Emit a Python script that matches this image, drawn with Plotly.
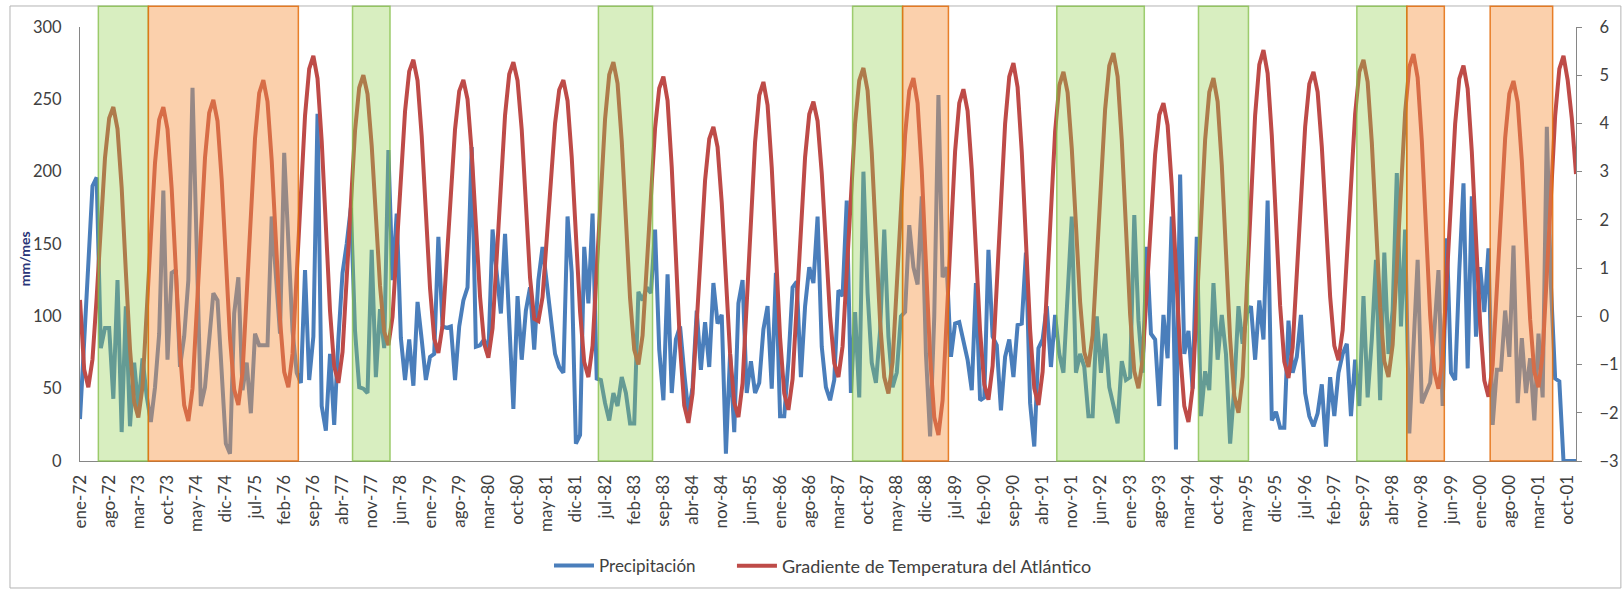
import plotly.graph_objects as go

months = ["ene", "feb", "mar", "abr", "may", "jun", "jul", "ago", "sep", "oct", "nov", "dic"]
years = list(range(1972, 2002))
categories = [f"{m}-{str(y)[2:]}" for y in years for m in months]

precipitacion = [
    29, 80, 140, 190, 196, 78, 92, 92, 43, 125, 20, 107,      # 1972
    24, 68, 36, 71, 45, 27, 51, 88, 187, 70, 130, 132,        # 1973
    65, 86, 125, 258, 148, 38, 51, 84, 116, 111, 63, 12,      # 1974
    5, 102, 127, 49, 68, 33, 88, 80, 80, 80, 169, 125,        # 1975
    88, 213, 150, 90, 61, 54, 132, 56, 86, 240, 38, 21,       # 1976
    74, 25, 84, 130, 150, 175, 90, 51, 50, 47, 146, 58,       # 1977
    105, 78, 215, 125, 171, 85, 56, 84, 52, 110, 84, 56,      # 1978
    72, 74, 155, 93, 92, 93, 56, 93, 111, 120, 217, 79,       # 1979
    80, 84, 74, 160, 130, 102, 157, 102, 36, 114, 70, 104,    # 1980
    120, 77, 125, 148, 125, 102, 74, 65, 61, 169, 130, 12,    # 1981
    18, 148, 109, 171, 57, 56, 40, 28, 47, 38, 58, 47,        # 1982
    26, 26, 117, 111, 120, 116, 160, 77, 42, 129, 47, 84,     # 1983
    93, 61, 33, 51, 104, 63, 96, 65, 123, 95, 101, 5,         # 1984
    74, 20, 109, 125, 47, 69, 47, 54, 91, 107, 50, 130,       # 1985
    31, 31, 69, 120, 124, 58, 107, 134, 123, 169, 79, 51,     # 1986
    42, 56, 118, 114, 180, 47, 103, 44, 200, 116, 68, 54,     # 1987
    90, 160, 86, 51, 61, 100, 103, 163, 134, 122, 183, 74,    # 1988
    17, 100, 253, 127, 134, 72, 95, 96, 84, 70, 49, 123,      # 1989
    42, 44, 146, 86, 80, 35, 72, 84, 58, 94, 95, 144,         # 1990
    40, 10, 78, 84, 107, 65, 101, 74, 61, 120, 169, 61,       # 1991
    74, 65, 31, 31, 100, 61, 88, 51, 38, 26, 69, 56,          # 1992
    58, 170, 97, 61, 148, 88, 84, 38, 101, 71, 169, 8,        # 1993
    198, 74, 90, 50, 155, 31, 62, 49, 123, 70, 101, 74,       # 1994
    12, 51, 107, 81, 102, 107, 70, 111, 84, 180, 28, 34,      # 1995
    23, 23, 97, 61, 72, 101, 47, 31, 24, 33, 53, 10,          # 1996
    58, 31, 61, 74, 81, 31, 70, 38, 114, 44, 84, 139,         # 1997
    42, 144, 74, 104, 199, 93, 160, 19, 79, 139, 40, 47,      # 1998
    54, 90, 132, 38, 154, 61, 56, 132, 192, 64, 183, 86,      # 1999
    134, 103, 147, 25, 63, 63, 104, 72, 149, 40, 85, 47,      # 2000
    71, 28, 88, 44, 231, 120, 57, 55, 0, 0, 0, 0,             # 2001
]

gradiente = [
    0.34, -1.10, -1.47, -0.89, 0.39, 1.90, 3.29, 4.11, 4.34, 3.89, 2.67, 0.93,
    -0.68, -1.78, -2.10, -1.46, -0.04, 1.64, 3.18, 4.08, 4.34, 3.88, 2.65, 0.89,
    -0.74, -1.84, -2.17, -1.50, -0.04, 1.69, 3.29, 4.22, 4.49, 4.05, 2.84, 1.14,
    -0.45, -1.52, -1.84, -1.17, 0.32, 2.07, 3.69, 4.63, 4.90, 4.45, 3.24, 1.52,
    -0.07, -1.15, -1.47, -0.78, 0.73, 2.51, 4.16, 5.13, 5.40, 4.93, 3.64, 1.81,
    0.11, -1.04, -1.38, -0.74, 0.66, 2.32, 3.85, 4.74, 5.00, 4.61, 3.54, 2.03,
    0.63, -0.32, -0.60, -0.01, 1.29, 2.83, 4.25, 5.08, 5.32, 4.89, 3.74, 2.10,
    0.58, -0.46, -0.76, -0.19, 1.05, 2.52, 3.88, 4.67, 4.90, 4.50, 3.40, 1.85,
    0.41, -0.57, -0.86, -0.25, 1.10, 2.70, 4.17, 5.02, 5.27, 4.89, 3.87, 2.42,
    0.80, -0.05, -0.10, 0.40, 1.50, 2.80, 4.00, 4.70, 4.90, 4.47, 3.30, 1.64,
    0.10, -0.95, -1.26, -0.61, 0.83, 2.53, 4.09, 5.01, 5.27, 4.83, 3.64, 1.95,
    0.38, -0.69, -1.00, -0.40, 0.91, 2.46, 3.90, 4.73, 4.97, 4.47, 3.10, 1.16,
    -0.63, -1.85, -2.21, -1.60, -0.25, 1.35, 2.82, 3.68, 3.93, 3.51, 2.36, 0.74,
    -0.77, -1.79, -2.09, -1.39, 0.13, 1.94, 3.61, 4.58, 4.86, 4.38, 3.09, 1.26,
    -0.44, -1.60, -1.94, -1.30, 0.10, 1.77, 3.30, 4.19, 4.45, 4.05, 2.97, 1.42,
    0.00, -0.97, -1.26, -0.62, 0.79, 2.46, 4.00, 4.89, 5.15, 4.68, 3.40, 1.57,
    -0.11, -1.26, -1.60, -0.95, 0.49, 2.19, 3.76, 4.68, 4.94, 4.42, 3.02, 1.02,
    -0.83, -2.09, -2.46, -1.74, -0.17, 1.70, 3.42, 4.42, 4.71, 4.26, 3.04, 1.30,
    -0.31, -1.41, -1.73, -1.03, 0.50, 2.32, 3.99, 4.97, 5.25, 4.75, 3.41, 1.49,
    -0.28, -1.49, -1.84, -1.15, 0.37, 2.17, 3.83, 4.79, 5.07, 4.64, 3.48, 1.83,
    0.30, -0.74, -1.05, -0.40, 1.03, 2.73, 4.29, 5.20, 5.46, 4.97, 3.65, 1.78,
    0.04, -1.14, -1.49, -0.90, 0.40, 1.94, 3.36, 4.18, 4.42, 3.96, 2.70, 0.92,
    -0.74, -1.86, -2.19, -1.48, 0.09, 1.95, 3.66, 4.65, 4.94, 4.45, 3.14, 1.26,
    -0.47, -1.65, -2.00, -1.25, 0.41, 2.36, 4.17, 5.22, 5.52, 5.04, 3.75, 1.92,
    0.22, -0.94, -1.28, -0.64, 0.75, 2.40, 3.93, 4.82, 5.07, 4.65, 3.52, 1.90,
    0.41, -0.61, -0.91, -0.29, 1.08, 2.70, 4.20, 5.07, 5.32, 4.86, 3.61, 1.83,
    0.19, -0.93, -1.26, -0.59, 0.88, 2.63, 4.23, 5.17, 5.44, 4.95, 3.64, 1.76,
    0.03, -1.15, -1.50, -0.83, 0.64, 2.39, 3.99, 4.93, 5.20, 4.72, 3.41, 1.56,
    -0.16, -1.33, -1.67, -1.01, 0.43, 2.13, 3.70, 4.62, 4.88, 4.44, 3.23, 1.51,
    -0.07, -1.15, -1.47, -0.78, 0.73, 2.51, 4.16, 5.13, 5.40, 4.90, 4.10, 2.95,
]

# Periodos sombreados (inicio, fin)
periodos_verdes = [("may-72", "may-73"), ("jun-77", "mar-78"), ("may-82", "jun-83"),
                   ("jun-87", "jun-88"), ("jul-91", "abr-93"), ("may-94", "may-95"),
                   ("jul-97", "jul-98")]
periodos_naranjas = [("may-73", "may-76"), ("jun-88", "may-89"), ("jul-98", "abr-99"),
                     ("mar-00", "jun-01")]

tick_labels = categories[::7]

BLUE = "#4a7ebb"
RED = "#be4b48"
AXIS = "#868686"
TXT = "#404040"
FONT = "Lato"

fig = go.Figure()
fig.add_trace(go.Scatter(x=categories, y=precipitacion, name="Precipitación", mode="lines",
                         line=dict(color=BLUE, width=4), legend="legend"))
fig.add_trace(go.Scatter(x=categories, y=gradiente, name="Gradiente de Temperatura del Atlántico",
                         mode="lines", yaxis="y2", line=dict(color=RED, width=4),
                         legend="legend2"))

shapes = []
OFF = 0.4
for a, b in periodos_verdes:
    shapes.append(dict(type="rect", xref="x", yref="paper",
                       x0=categories.index(a) + OFF, x1=categories.index(b) + OFF,
                       y0=0, y1=1.048, layer="above",
                       fillcolor="rgba(146,208,80,0.36)",
                       line=dict(color="rgba(130,190,70,0.75)", width=1.5)))
for a, b in periodos_naranjas:
    shapes.append(dict(type="rect", xref="x", yref="paper",
                       x0=categories.index(a) + OFF, x1=categories.index(b) + OFF,
                       y0=0, y1=1.048, layer="above",
                       fillcolor="rgba(247,150,70,0.45)",
                       line=dict(color="rgba(228,108,10,0.85)", width=1.5)))
# chart frame
shapes.append(dict(type="rect", xref="paper", yref="paper", x0=-0.0468, x1=1.030,
                   y0=-0.2926, y1=1.0484, layer="below",
                   line=dict(color="#b4b4b4", width=1), fillcolor="rgba(0,0,0,0)"))

leg_common = dict(orientation="h", y=-0.242, yanchor="middle", xanchor="left",
                  bgcolor="rgba(0,0,0,0)", itemwidth=40)

fig.update_layout(
    width=1623, height=590,
    margin=dict(l=80, r=47, t=27, b=129, autoexpand=False),
    paper_bgcolor="white", plot_bgcolor="white",
    font=dict(family=FONT, color=TXT, size=15),
    shapes=shapes,
    showlegend=True,
    legend=dict(x=0.3135, font=dict(size=17, color=TXT, family=FONT), **leg_common),
    legend2=dict(x=0.4358, font=dict(size=18, color=TXT, family=FONT), **leg_common),
    xaxis=dict(type="category", range=[0, 359], tickvals=tick_labels, ticktext=tick_labels,
               tickangle=-90, showline=True, linecolor=AXIS, linewidth=1.2, ticks="",
               showgrid=False, zeroline=False, tickfont=dict(size=17, color=TXT),
               ticklabelstandoff=6, automargin=False),
    yaxis=dict(range=[0, 300], dtick=50, showline=True, linecolor=AXIS, linewidth=1.2,
               ticks="", showgrid=False, zeroline=False, tickfont=dict(size=16.5, color=TXT),
               ticklabelstandoff=14, automargin=False),
    yaxis2=dict(range=[-3, 6], dtick=1, overlaying="y", side="right", showline=True,
                linecolor=AXIS, linewidth=1.2, ticks="outside", ticklen=5, tickcolor=AXIS,
                showgrid=False, zeroline=False, tickfont=dict(size=16.5, color=TXT),
                ticklabelstandoff=14, automargin=False),
    annotations=[dict(text="<b>mm/mes</b>", xref="paper", yref="paper", x=-0.0374, y=0.465,
                      xanchor="center", yanchor="middle",
                      textangle=-90, showarrow=False, font=dict(size=14, color="#2a3578"))],
)

fig.write_html(
    "out.html",
    config={"displayModeBar": False},
    post_script="document.body.style.margin='0';document.body.style.overflow='hidden';",
)
